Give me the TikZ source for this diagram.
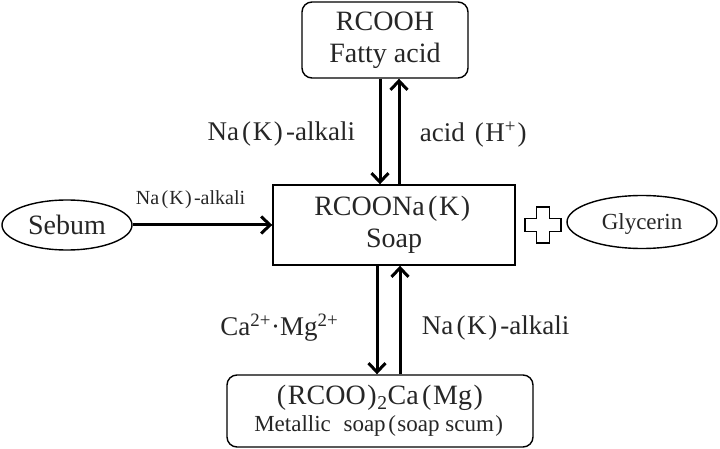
\documentclass[tikz,border=0pt]{standalone}
\usepackage{fontspec}
\setmainfont{Liberation Serif}
\usetikzlibrary{arrows.meta, shapes.geometric}
\newcommand{\jlp}{\kern0.12em(\kern0.06em}
\newcommand{\jrp}{\kern0.06em)\kern0.12em}

\begin{document}
\begin{tikzpicture}[x=1pt, y=-1pt, line width=1.4pt, text=black!85,
  box/.style={draw, align=center, font=\fontsize{28}{32}\selectfont},
  oval/.style={draw, ellipse, inner sep=0pt},
  arr/.style={line width=3pt, -{Straight Barb[length=9pt, width=17pt]}},
  lbl/.style={font=\fontsize{27}{30}\selectfont}]
  \useasboundingbox (0,0) rectangle (720,449);
  % boxes
  \node[box, rounded corners=10pt, minimum width=166pt, minimum height=76pt] (fatty) at (385,40) {RCOOH\\Fatty acid};
  \node[box, minimum width=242pt, minimum height=80pt] (soap) at (394,225) {RCOONa\jlp K\jrp\\Soap};
  \node[box, rounded corners=10pt, minimum width=306pt, minimum height=72pt,
    font=\fontsize{28}{27}\selectfont] (metal) at (380,411)
    {\jlp RCOO\jrp\kern-0.1em\textsubscript{2}Ca\jlp Mg\jrp\\{\fontsize{23}{26}\selectfont Metallic\hspace{0.3em} soap\jlp soap scum\jrp}};
  \node[oval, minimum width=130pt, minimum height=50pt, font=\fontsize{28}{32}\selectfont] (sebum) at (67,225) {Sebum};
  \node[oval, minimum width=150pt, minimum height=53pt, text depth=0pt, font=\fontsize{23}{26}\selectfont] (glyc) at (642,222) {Glycerin};
  % plus sign
  \coordinate (plus) at (543,225);
  \draw (plus) ++(-6.5,-18) -- ++(13,0) -- ++(0,11.5) -- ++(11.5,0) -- ++(0,13) -- ++(-11.5,0)
    -- ++(0,11.5) -- ++(-13,0) -- ++(0,-11.5) -- ++(-11.5,0) -- ++(0,-13) -- ++(11.5,0) -- cycle;
  % arrows
  \draw[arr] (sebum.east) -- (soap.west)
    node[midway, above=11pt, xshift=-12pt, font=\fontsize{20}{22}\selectfont] {Na\jlp K\jrp-alkali};
  \draw[arr] ([xshift=-5pt]fatty.south) -- ([xshift=-5pt]fatty.south |- soap.north)
    node[midway, left=20pt, yshift=-3pt, lbl] {Na\jlp K\jrp-alkali};
  \draw[arr] ([xshift=14pt]fatty.south |- soap.north) -- ([xshift=14pt]fatty.south)
    node[midway, right=16pt, yshift=-3pt, lbl] {acid \jlp H\textsuperscript{+}\jrp};
  \draw[arr] ([xshift=-17pt]soap.south) -- ([xshift=-17pt]soap.south |- metal.north)
    node[midway, left=34pt, yshift=-8pt, lbl] {Ca\textsuperscript{2+}·Mg\textsuperscript{2+}};
  \draw[arr] ([xshift=6pt]soap.south |- metal.north) -- ([xshift=6pt]soap.south)
    node[midway, right=17pt, yshift=-8pt, lbl] {Na\jlp K\jrp-alkali};
\end{tikzpicture}
\end{document}
